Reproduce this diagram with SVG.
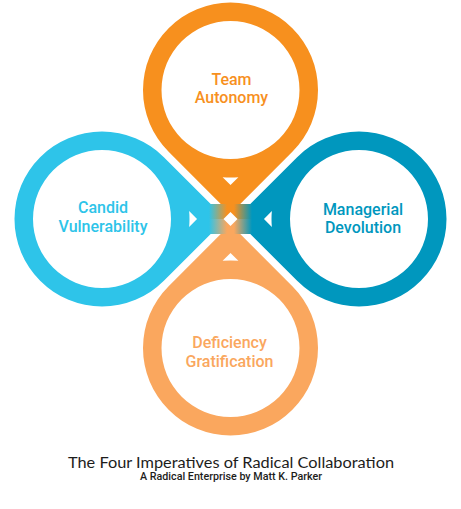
<svg xmlns="http://www.w3.org/2000/svg" width="461" height="509" viewBox="0 0 461 509">
<style>
.lbl{font-family:Roboto,"Liberation Sans",sans-serif;font-weight:500;font-size:16px;text-anchor:middle}
.title{font-family:Lato,"Liberation Sans",sans-serif;font-size:15.5px;fill:#1d1d1b;text-anchor:middle}
.sub{font-family:Roboto,"Liberation Sans",sans-serif;font-weight:500;font-size:10.5px;fill:#1d1d1b;text-anchor:middle}
.orange{fill:#F7901E}.lblue{fill:#2EC4E9}.dblue{fill:#0097BE}.peach{fill:#FAA75E}
</style>
<defs>
<path id="petal" fill-rule="evenodd" d="M 0 123.74 L -61.87 61.87 A 87.5 87.5 0 1 1 61.87 61.87 Z M 69 0 A 69 69 0 1 0 -69 0 A 69 69 0 1 0 69 0 Z M 0 95.04 L -7.9 87.14 A 87.5 87.5 0 0 0 7.9 87.14 Z"/>
<linearGradient id="gl" gradientUnits="userSpaceOnUse" x1="209" y1="0" x2="227" y2="0">
<stop offset="0" stop-color="#2EC4E9" stop-opacity="1"/>
<stop offset="1" stop-color="#2EC4E9" stop-opacity="0"/>
</linearGradient>
<linearGradient id="gr" gradientUnits="userSpaceOnUse" x1="234" y1="0" x2="252" y2="0">
<stop offset="0" stop-color="#0097BE" stop-opacity="0"/>
<stop offset="1" stop-color="#0097BE" stop-opacity="1"/>
</linearGradient>
</defs>
<rect width="461" height="509" fill="#fff"/>
<g id="team-autonomy">
<use href="#petal" class="orange" transform="translate(230.5,90)"/>
<text class="lbl orange" x="231.5" y="85">Team</text>
<text class="lbl orange" x="231.5" y="103">Autonomy</text>
</g>
<g id="candid-vulnerability">
<use href="#petal" class="lblue" transform="translate(102,219) rotate(-90)"/>
<text class="lbl lblue" x="103" y="213">Candid</text>
<text class="lbl lblue" x="103" y="231.5">Vulnerability</text>
</g>
<g id="managerial-devolution">
<use href="#petal" class="dblue" transform="translate(359,219) rotate(90)"/>
<text class="lbl dblue" x="363" y="215">Managerial</text>
<text class="lbl dblue" x="363" y="233">Devolution</text>
</g>
<g id="deficiency-gratification">
<use href="#petal" class="peach" transform="translate(230.5,348) rotate(180)"/>
<text class="lbl peach" x="229.5" y="347.5">Deficiency</text>
<text class="lbl peach" x="229.5" y="366.5">Gratification</text>
</g>
<g id="crossing">
<rect x="205" y="204" width="51" height="15" class="orange"/>
<rect x="205" y="219" width="51" height="15" class="peach"/>
<rect x="205" y="204" width="23" height="30" fill="url(#gl)"/>
<rect x="233" y="204" width="23" height="30" fill="url(#gr)"/>
<path d="M 230.5 212 L 237.5 219 L 230.5 226 L 223.5 219 Z" fill="#fff"/>
</g>
<g id="caption">
<text class="title" x="231" y="468" textLength="326" lengthAdjust="spacingAndGlyphs">The Four Imperatives of Radical Collaboration</text>
<text class="sub" x="231" y="480" textLength="182" lengthAdjust="spacingAndGlyphs">A Radical Enterprise by Matt K. Parker</text>
</g>
</svg>
